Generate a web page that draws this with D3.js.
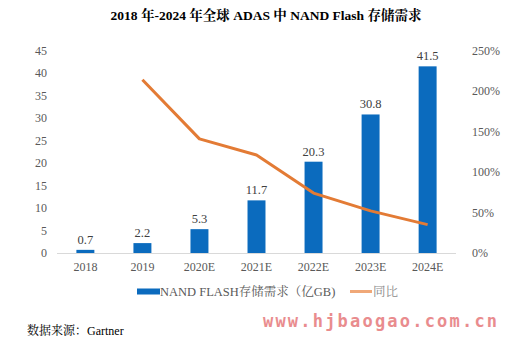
<!DOCTYPE html>
<html><head><meta charset="utf-8">
<script src="https://cdn.jsdelivr.net/npm/d3@7"></script>
<style>body{margin:0;background:#fff}svg{display:block}</style>
</head><body>
<script>
const categories = ["2018","2019","2020E","2021E","2022E","2023E","2024E"];
const demand = [0.7,2.2,5.3,11.7,20.3,30.8,41.5];
const growth = [null,214,141,121,74,52,35];
const leftTicks = [0,5,10,15,20,25,30,35,40,45];
const rightTicks = [0,50,100,150,200,250];
const title = "2018 年-2024 年全球 ADAS 中 NAND Flash 存储需求";
const seriesNames = ["NAND FLASH存储需求（亿GB)","同比"];
const source = "数据来源：Gartner";
const watermark = "www.hjbaogao.com.cn";

const W=510,H=341;
const svg=d3.select("body").append("svg").attr("width",W).attr("height",H);
const serif="'Liberation Serif','Times New Roman','Noto Serif CJK SC','Noto Sans CJK SC',serif";
const x=d3.scaleBand().domain(categories).range([57,456]).paddingInner(0.685).paddingOuter(0.34);
const y=d3.scaleLinear().domain([0,45]).range([253,50.6]);
const y2=d3.scaleLinear().domain([0,250]).range([253,50.6]);
const blue="#0B6BBE", orange="#E37B35", grey="#595959";

svg.append("text").attr("x",266).attr("y",20).attr("text-anchor","middle")
  .attr("font-family",serif).attr("font-weight","bold").attr("font-size",13.5).attr("fill","#000").text(title);

// left axis
const la=svg.append("g").attr("transform","translate(47,0)")
  .call(d3.axisLeft(y).tickValues(leftTicks).tickSize(0).tickPadding(0));
la.select(".domain").remove();
la.selectAll("text").attr("font-family",serif).attr("font-size",12).attr("fill",grey);
// right axis
const ra=svg.append("g").attr("transform","translate(472,0)")
  .call(d3.axisRight(y2).tickValues(rightTicks).tickFormat(d=>d+"%").tickSize(0).tickPadding(0));
ra.select(".domain").remove();
ra.selectAll("text").attr("font-family",serif).attr("font-size",12).attr("fill",grey);

// baseline
svg.append("line").attr("x1",57).attr("x2",456).attr("y1",253.5).attr("y2",253.5).attr("stroke","#D9D9D9").attr("stroke-width",1);

// x axis labels
const xa=svg.append("g").attr("transform","translate(0,258)")
  .call(d3.axisBottom(x).tickSize(0).tickPadding(4));
xa.select(".domain").remove();
xa.selectAll("text").attr("font-family",serif).attr("font-size",12).attr("fill",grey);

// bars
svg.append("g").selectAll("rect").data(demand).join("rect")
  .attr("x",(d,i)=>x(categories[i])).attr("width",x.bandwidth())
  .attr("y",d=>y(d)).attr("height",d=>y(0)-y(d)).attr("fill",blue);
svg.append("g").selectAll("text").data(demand).join("text")
  .attr("x",(d,i)=>x(categories[i])+x.bandwidth()/2).attr("y",d=>y(d)-6)
  .attr("text-anchor","middle").attr("font-family",serif).attr("font-size",12.5).attr("fill","#404040")
  .text(d=>d);

// line
const line=d3.line().defined(d=>d!=null).x((d,i)=>x(categories[i])+x.bandwidth()/2).y(d=>y2(d));
svg.append("path").datum(growth).attr("d",line).attr("fill","none").attr("stroke",orange)
  .attr("stroke-width",3).attr("stroke-linejoin","round");

// legend
svg.append("rect").attr("x",137).attr("y",288.5).attr("width",23).attr("height",6).attr("fill",blue);
svg.append("text").attr("x",160).attr("y",296).attr("font-family",serif).attr("font-size",12.5).attr("fill",grey).text(seriesNames[0]);
svg.append("line").attr("x1",350).attr("x2",372).attr("y1",291.5).attr("y2",291.5).attr("stroke","#F0A878").attr("stroke-width",3);
svg.append("text").attr("x",373).attr("y",296).attr("font-family",serif).attr("font-size",12.5).attr("fill","#8a8a8a").text(seriesNames[1]);

// source
svg.append("text").attr("x",27).attr("y",335).attr("font-family",serif).attr("font-size",12).attr("fill","#000").text(source);
// watermark
svg.append("text").attr("x",263).attr("y",327).attr("font-family","'DejaVu Sans Mono','Liberation Mono',monospace")
  .attr("font-weight","bold").attr("font-size",17).attr("letter-spacing",2.2).attr("fill","#E98C8E").text(watermark);
</script>
</body></html>
